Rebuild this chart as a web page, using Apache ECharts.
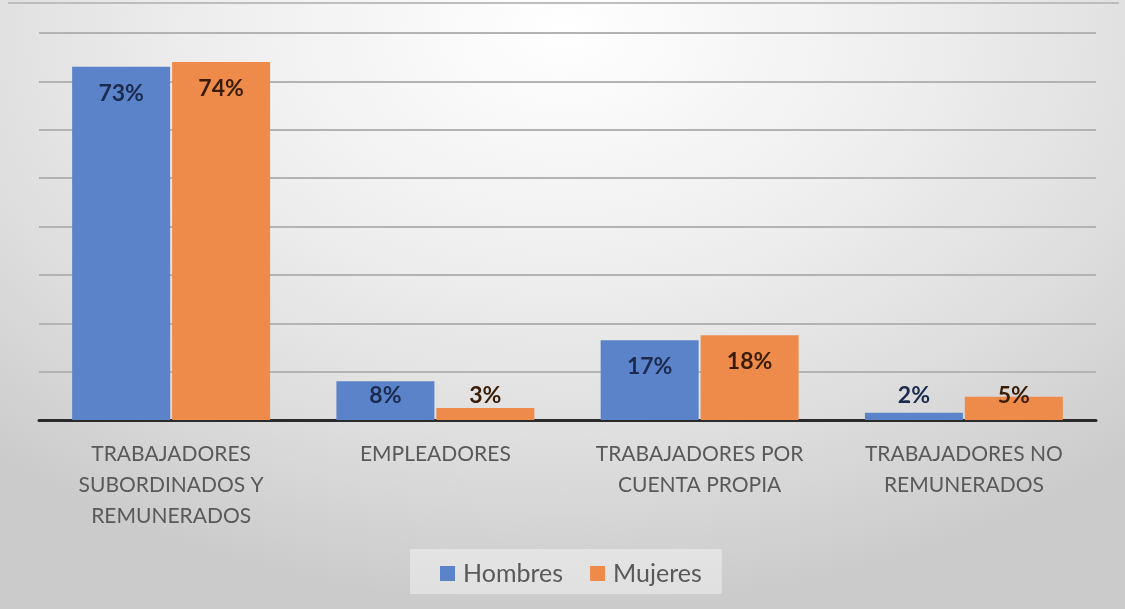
<!DOCTYPE html>
<html>
<head>
<meta charset="utf-8">
<script src="https://cdn.jsdelivr.net/npm/echarts@6/dist/echarts.min.js"></script>
<style>
  html, body { margin: 0; padding: 0; width: 1125px; height: 609px; overflow: hidden; }
  #wrap {
    position: absolute; left: 0; top: 0; width: 1125px; height: 609px;
    background: radial-gradient(ellipse 75% 95% at 50% 5%, #ffffff 0%, #efefef 40%, #dfdfdf 70%, #cbcbcb 100%);
  }
  #frame { position: absolute; left: 8px; top: 2px; right: 6px; height: 2px; background: #bdbdbd; }
  #chart { position: absolute; left: 0; top: 0; width: 1125px; height: 609px; }
</style>
</head>
<body>
<div id="wrap"><div id="frame"></div><div id="chart"></div></div>
<script>
const categories = [
  'TRABAJADORES\nSUBORDINADOS Y\nREMUNERADOS',
  'EMPLEADORES',
  'TRABAJADORES POR\nCUENTA PROPIA',
  'TRABAJADORES NO\nREMUNERADOS'
];
const seriesNames = ['Hombres', 'Mujeres'];
const hombres = [73, 8, 16.5, 1.5];
const mujeres = [74, 2.5, 17.5, 4.8];
const yTicks = [0, 10, 20, 30, 40, 50, 60, 70, 80];

const FONT = 'Lato, "Open Sans", sans-serif';

function buildData(values) {
  return values.map(v => ({
    value: v,
    label: v >= 10
      ? { position: 'insideTop', distance: 15 }
      : { position: 'insideBottom', distance: 13 }
  }));
}

const labelBase = (color) => ({
  show: true,
  color: color,
  fontFamily: FONT,
  fontWeight: 'bold',
  fontSize: 23,
  formatter: p => Math.round(p.value) + '%'
});

const chart = echarts.init(document.getElementById('chart'), null, { renderer: 'canvas' });
chart.setOption({
  backgroundColor: 'transparent',
  animation: false,
  grid: { left: 39, right: 29, top: 33, bottom: 189, containLabel: false },
  legend: {
    data: seriesNames,
    bottom: 15,
    left: 410,
    itemWidth: 15,
    itemHeight: 15,
    itemGap: 27,
    padding: [12, 20, 8, 30],
    backgroundColor: 'rgba(255,255,255,0.4)',
    icon: 'rect',
    textStyle: { color: '#595959', fontSize: 25, fontFamily: FONT, padding: [0, 0, 0, 3] }
  },
  xAxis: {
    type: 'category',
    data: categories,
    axisTick: { show: false },
    axisLine: { show: true, lineStyle: { color: '#2b2b2b', width: 3 } },
    axisLabel: {
      margin: 19,
      color: '#595959',
      fontSize: 21,
      lineHeight: 31,
      fontFamily: FONT,
      interval: 0,
      align: 'center'
    }
  },
  yAxis: {
    type: 'value',
    min: yTicks[0],
    max: yTicks[yTicks.length - 1],
    interval: yTicks[1] - yTicks[0],
    axisLabel: { show: false },
    axisLine: { show: false },
    axisTick: { show: false },
    splitLine: { lineStyle: { color: '#b3b3b3', width: 2 } }
  },
  series: [
    {
      name: seriesNames[0],
      type: 'bar',
      data: buildData(hombres),
      itemStyle: { color: '#5b83c9' },
      barWidth: 98,
      barGap: '2%',
      label: labelBase('#1c2b4d')
    },
    {
      name: seriesNames[1],
      type: 'bar',
      data: buildData(mujeres),
      itemStyle: { color: '#ee8b4a' },
      barWidth: 98,
      barGap: '2%',
      label: labelBase('#3a1c05')
    }
  ]
});
</script>
</body>
</html>
